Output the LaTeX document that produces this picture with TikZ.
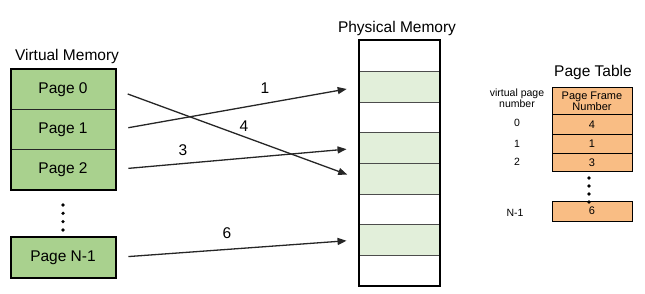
\documentclass[tikz,border=0pt]{standalone}
\usepackage{fontspec}
\setmainfont{Liberation Sans}
\usetikzlibrary{arrows.meta}
\definecolor{vgreen}{HTML}{A9D18E}
\definecolor{pgreen}{HTML}{E2EFDA}
\definecolor{ptorange}{HTML}{F9BD84}
\tikzset{
  big/.style={font=\fontsize{15.5}{18}\selectfont},
  small/.style={font=\fontsize{10.5}{12}\selectfont},
  tbl/.style={font=\fontsize{11}{12.5}\selectfont},
  vpage/.style={big, draw=black!85, line width=1pt, fill=vgreen, minimum width=104pt, minimum height=40pt, inner sep=0pt},
  pframe/.style={draw=black!70, line width=1pt, minimum width=80pt, minimum height=30.6pt, inner sep=0pt},
  ptrow/.style={tbl, draw=black, line width=1pt, fill=ptorange, minimum width=80pt, inner sep=0pt, align=center},
  maparrow/.style={line width=1.3pt, draw=black!85, -{Triangle[length=9pt,width=7pt]}, shorten <=13pt, shorten >=12pt},
  lbl/.style={big},
  dotmark/.style={circle, fill=black, inner sep=0pt, minimum size=3.6pt}
}
\begin{document}
\begin{tikzpicture}[x=1pt,y=-1pt]
\useasboundingbox (0,0) rectangle (645,294);
% Virtual memory
\node[big] (vmlabel) at (67,56) {Virtual Memory};
\node[vpage] (vp0) at (63,89.5) {Page 0};
\node[vpage] (vp1) at (63,130) {Page 1};
\node[vpage] (vp2) at (63,169.5) {Page 2};
\node[vpage] (vpn) at (63,257.5) {Page N-1};
\draw[line width=2pt] (vp0.north west) rectangle (vp2.south east);
\draw[line width=2pt] (vpn.north west) rectangle (vpn.south east);
\foreach \i/\y in {1/205,2/213.3,3/221.6,4/230} \node[dotmark] (vd\i) at (63,\y) {};
% Physical memory
\node[big] (pmlabel) at (397,28) {Physical Memory};
\foreach \i/\c in {0/white,1/pgreen,2/white,3/pgreen,4/pgreen,5/white,6/pgreen,7/white}
  \node[pframe, fill=\c] (pm\i) at (399,{41+30.6*\i+15.3}) {};
\draw[line width=2pt] (pm0.north west) rectangle (pm7.south east);
% Mapping arrows
\draw[maparrow] (vp0.east) -- (pm4.west);
\draw[maparrow] (vp1.east) -- (pm1.west);
\draw[maparrow] (vp2.east) -- (pm3.west);
\draw[maparrow] (vpn.east) -- (pm6.west);
\node[lbl] (l1) at (265,88) {1};
\node[lbl] (l4) at (244,126) {4};
\node[lbl] (l3) at (183,150) {3};
\node[lbl] (l6) at (227,233) {6};
% Page table
\node[big] (ptlabel) at (593,72) {Page Table};
\node[ptrow, minimum height=27pt] (pth) at (592,101.5) {Page Frame\\[-1.5pt]Number};
\node[ptrow, minimum height=19.5pt] (pt0) at (592,124.75) {4};
\node[ptrow, minimum height=18.5pt] (pt1) at (592,143.75) {1};
\node[ptrow, minimum height=18.5pt] (pt2) at (592,162.25) {3};
\node[ptrow, minimum height=20pt] (ptn) at (592,211) {6};
\foreach \i/\y in {1/178,2/186,3/194} \node[dotmark] (pd\i) at (589,\y) {};
\node[dotmark] (pd4) at (589,202) {};
\node[small, align=center] (vpnlabel) at (517,98.5) {virtual page\\[-1pt]number};
\node[small] (n0) at (517,123) {0};
\node[small] (n1) at (517,144) {1};
\node[small] (n2) at (517,162) {2};
\node[small] (nn) at (515,213) {N-1};
\end{tikzpicture}
\end{document}
